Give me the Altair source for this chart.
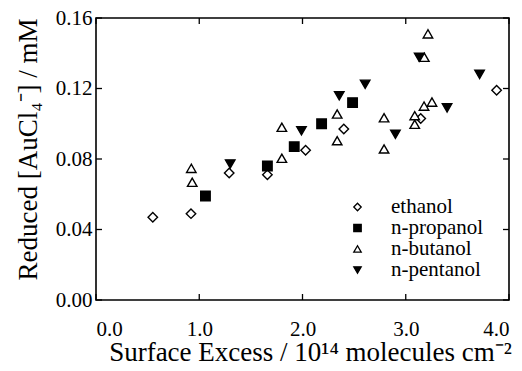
import altair as alt
import pandas as pd

# ---- data ----
series_names = ["ethanol", "n-propanol", "n-butanol", "n-pentanol"]

ethanol_x = [0.55, 0.92, 1.29, 1.66, 2.03, 2.40, 3.145, 3.88]
ethanol_y = [0.047, 0.049, 0.072, 0.071, 0.085, 0.097, 0.103, 0.119]

propanol_x = [1.06, 1.66, 1.92, 2.185, 2.485]
propanol_y = [0.059, 0.076, 0.087, 0.100, 0.112]

butanol_x = [0.923, 0.932, 1.80, 1.80, 2.336, 2.336, 2.79, 2.79, 3.087, 3.087, 3.177, 3.254, 3.18, 3.215]
butanol_y = [0.0747, 0.0668, 0.0804, 0.098, 0.1055, 0.0904, 0.1034, 0.0857, 0.1046, 0.0997, 0.110, 0.1123, 0.1377, 0.151]

pentanol_x = [1.30, 1.99, 2.356, 2.607, 2.90, 3.13, 3.40, 3.715]
pentanol_y = [0.0772, 0.096, 0.1159, 0.1224, 0.094, 0.1377, 0.109, 0.128]

x_ticks = [0.0, 1.0, 2.0, 3.0, 4.0]
y_ticks = [0.00, 0.04, 0.08, 0.12, 0.16]

rows = []
for name, xs, ys in [("ethanol", ethanol_x, ethanol_y),
                     ("n-propanol", propanol_x, propanol_y),
                     ("n-pentanol", pentanol_x, pentanol_y),
                     ("n-butanol", butanol_x, butanol_y)]:
    for a, b in zip(xs, ys):
        rows.append({"x": a, "y": b, "solvent": name})
df = pd.DataFrame(rows)
df["order"] = range(len(df))

xt = pd.DataFrame({"x": x_ticks})
yt = pd.DataFrame({"y": y_ticks})

W, H = 413, 282
FONT = "Liberation Serif"
TL = 6

xscale = alt.Scale(domain=[0, 4], nice=False, zero=False)
yscale = alt.Scale(domain=[0, 0.16], nice=False, zero=False)

x_axis = alt.Axis(values=x_ticks, format=".1f", ticks=False, domain=False, grid=False,
                  labelFont=FONT, labelFontSize=21, labelColor="black", labelPadding=18,
                  title="Surface Excess / 10¹⁴ molecules cm⁻²",
                  titleFont=FONT, titleFontSize=27, titleFontWeight="normal",
                  titleColor="black", titleX=214, titleY=60, titleBaseline="alphabetic")
y_axis = alt.Axis(values=y_ticks, format=".2f", ticks=False, domain=False, grid=False,
                  labelFont=FONT, labelFontSize=21, labelColor="black", labelPadding=4,
                  title="Reduced [AuCl₄⁻] / mM",
                  titleFont=FONT, titleFontSize=27, titleFontWeight="normal",
                  titleColor="black", titleX=-60, titleY=131, titleBaseline="alphabetic")

legend = alt.Legend(
    title=None, orient="none", legendX=251, legendY=180,
    labelFont=FONT, labelFontSize=21, labelColor="black",
    labelOffset=23, symbolSize=55, symbolStrokeWidth=1.3,
    symbolStrokeColor="black", symbolOpacity=1,
    rowPadding=0, clipHeight=18, padding=0, labelLimit=300,
)

points = alt.Chart(df).mark_point(
    filled=False, size=90, strokeWidth=1.4, opacity=1
).encode(
    x=alt.X("x:Q", scale=xscale, axis=x_axis),
    y=alt.Y("y:Q", scale=yscale, axis=y_axis),
    shape=alt.Shape("solvent:N",
                    scale=alt.Scale(domain=series_names,
                                    range=["diamond", "square", "triangle-up", "triangle-down"]),
                    legend=legend),
    fill=alt.Fill("solvent:N",
                  scale=alt.Scale(domain=series_names,
                                  range=["white", "black", "white", "black"]),
                  legend=legend),
    stroke=alt.Stroke("solvent:N",
                      scale=alt.Scale(domain=series_names,
                                      range=["black", "black", "black", "black"]),
                      legend=legend),
    order=alt.Order("order:Q"),
)

bottom_ticks = alt.Chart(xt).mark_rule(color="black", strokeWidth=1.3).encode(
    x=alt.X("x:Q", scale=xscale, axis=x_axis), y=alt.value(H), y2=alt.value(H - TL))
top_ticks = alt.Chart(xt).mark_rule(color="black", strokeWidth=1.3).encode(
    x=alt.X("x:Q", scale=xscale, axis=x_axis), y=alt.value(0), y2=alt.value(TL))
left_ticks = alt.Chart(yt).mark_rule(color="black", strokeWidth=1.3).encode(
    y=alt.Y("y:Q", scale=yscale, axis=y_axis), x=alt.value(0), x2=alt.value(TL))
right_ticks = alt.Chart(yt).mark_rule(color="black", strokeWidth=1.3).encode(
    y=alt.Y("y:Q", scale=yscale, axis=y_axis), x=alt.value(W), x2=alt.value(W - TL))

chart = alt.layer(points, bottom_ticks, top_ticks, left_ticks, right_ticks).properties(
    width=W, height=H,
    autosize=alt.AutoSizeParams(type="none"),
    padding={"left": 88, "top": 10, "right": 5, "bottom": 63},
    background="white",
).configure(font=FONT).configure_view(
    stroke="black", strokeWidth=1.6
).configure_axis(
    labelFont=FONT, titleFont=FONT
).configure_legend(
    labelFont=FONT, labelFontSize=21, rowPadding=0
)

chart.save("out.html", embed_options={"renderer": "svg", "actions": False})
